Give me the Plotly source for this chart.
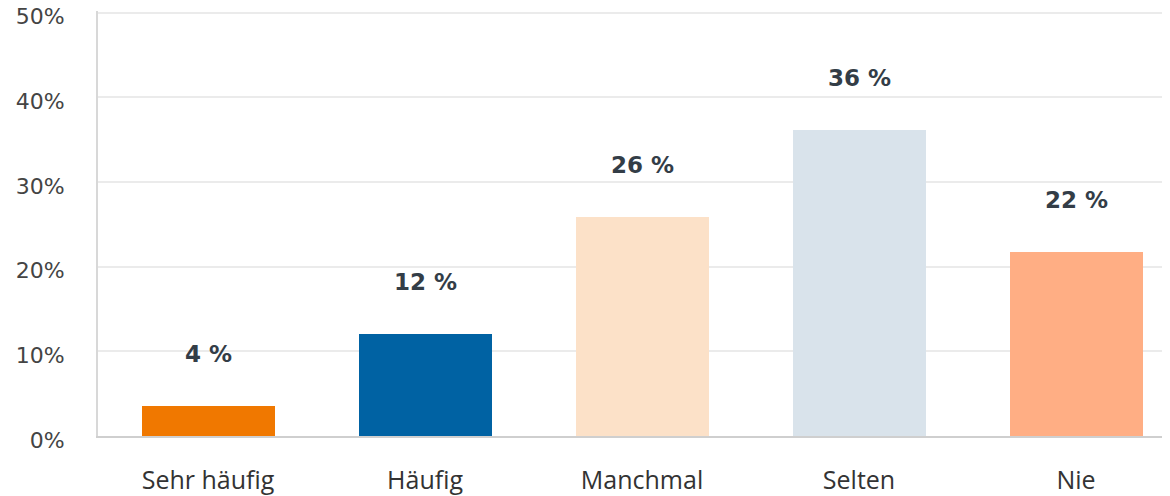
import plotly.graph_objects as go

categories = ["Sehr häufig", "Häufig", "Manchmal", "Selten", "Nie"]
values = [3.6, 12.0, 25.9, 36.2, 21.7]
labels = ["4 %", "12 %", "26 %", "36 %", "22 %"]
colors = ["#F07800", "#0062A3", "#FCE1C8", "#D9E3EB", "#FFAE84"]
y_ticks = [0, 10, 20, 30, 40, 50]
y_ticklabels = ["0%", "10%", "20%", "30%", "40%", "50%"]

fig = go.Figure()
fig.add_trace(go.Bar(
    x=list(range(len(categories))), y=values,
    marker=dict(color=colors, line=dict(width=0)),
    width=0.613, hoverinfo="skip",
))

for i, (v, t) in enumerate(zip(values, labels)):
    fig.add_annotation(
        x=i, y=v, text=f"<b>{t}</b>", showarrow=False,
        yanchor="bottom", yshift=37,
        font=dict(family="DejaVu Sans", size=23, color="#333D47"),
    )

# page body has an 8px default margin, so the figure is sized to fit the window
fig.update_layout(
    width=1162, height=488,
    margin=dict(l=90, r=0, t=3, b=60),
    plot_bgcolor="white", paper_bgcolor="white",
    showlegend=False,
    bargap=0,
    xaxis=dict(
        range=[-0.507, 4.433],
        tickmode="array", tickvals=list(range(len(categories))), ticktext=categories,
        showgrid=False, zeroline=False, automargin=False,
        showline=True, linecolor="#CFCFCF", linewidth=2,
        ticks="", ticklabelstandoff=21,
        tickfont=dict(family="Open Sans", size=25, color="#333333"),
        fixedrange=True,
    ),
    yaxis=dict(
        range=[0, 50.2],
        tickmode="array", tickvals=y_ticks, ticktext=y_ticklabels,
        showgrid=True, gridcolor="#EBEBEB", gridwidth=1.5,
        zeroline=False, automargin=False,
        showline=True, linecolor="#D8D8D8", linewidth=2,
        ticks="", ticklabelstandoff=27, ticklabelshift=4,
        ticklabeloverflow="allow",
        tickfont=dict(family="DejaVu Sans", size=22, color="#444444"),
        fixedrange=True,
    ),
)

fig.write_html("out.html")
